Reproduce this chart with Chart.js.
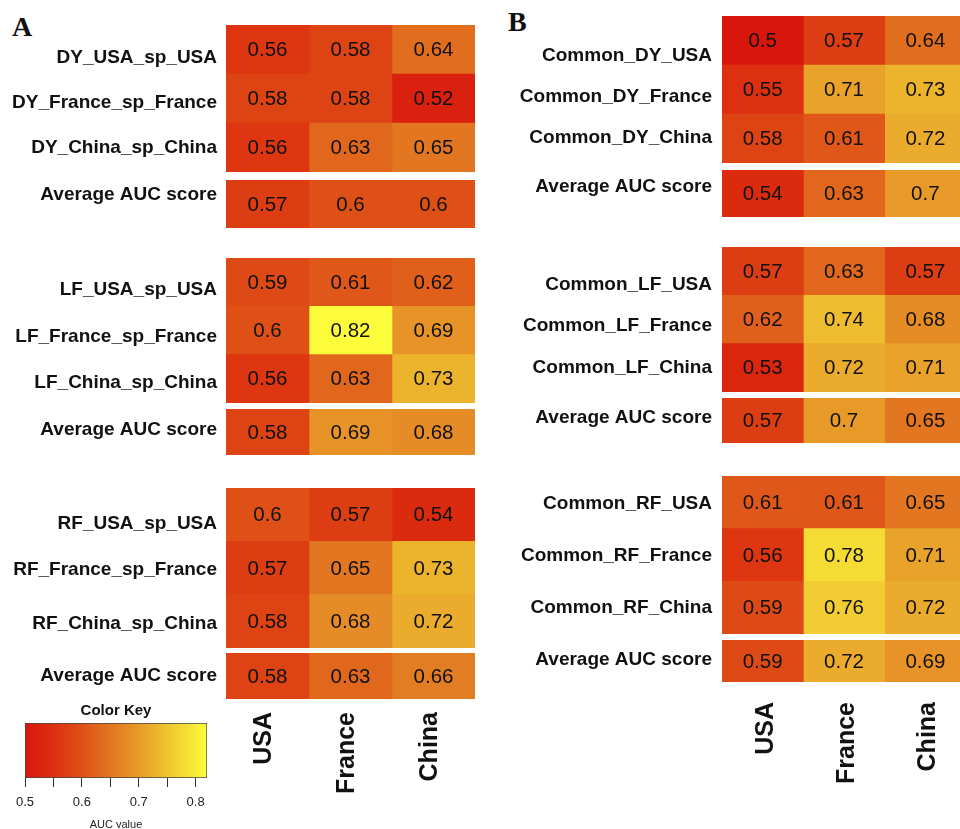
<!DOCTYPE html>
<html><head><meta charset="utf-8">
<script src="https://cdn.jsdelivr.net/npm/chart.js@4.4.1/dist/chart.umd.min.js"></script>
<style>
html,body{margin:0;padding:0;background:#fff;overflow:hidden;}
#wrap{position:relative;width:960px;height:829px;overflow:hidden;background:#fff;}
#wrap canvas{position:absolute;}
.letter{position:absolute;font-family:"Liberation Serif","DejaVu Serif",serif;font-weight:bold;font-size:28px;color:#111;line-height:1;}
</style></head><body>
<div id="wrap">
  <div class="letter" style="left:12px;top:13px">A</div>
  <div class="letter" style="left:508px;top:8px">B</div>
</div>
<script>
// ---------------- DATA ----------------
const colLabels = ['USA', 'France', 'China'];
const avgLabel = 'Average AUC score';

// Panel A
const rowsA_DY = ['DY_USA_sp_USA', 'DY_France_sp_France', 'DY_China_sp_China'];
const valsA_DY = [[0.56, 0.58, 0.64], [0.58, 0.58, 0.52], [0.56, 0.63, 0.65]];
const avgA_DY  = [0.57, 0.6, 0.6];
const rowsA_LF = ['LF_USA_sp_USA', 'LF_France_sp_France', 'LF_China_sp_China'];
const valsA_LF = [[0.59, 0.61, 0.62], [0.6, 0.82, 0.69], [0.56, 0.63, 0.73]];
const avgA_LF  = [0.58, 0.69, 0.68];
const rowsA_RF = ['RF_USA_sp_USA', 'RF_France_sp_France', 'RF_China_sp_China'];
const valsA_RF = [[0.6, 0.57, 0.54], [0.57, 0.65, 0.73], [0.58, 0.68, 0.72]];
const avgA_RF  = [0.58, 0.63, 0.66];

// Panel B
const rowsB_DY = ['Common_DY_USA', 'Common_DY_France', 'Common_DY_China'];
const valsB_DY = [[0.5, 0.57, 0.64], [0.55, 0.71, 0.73], [0.58, 0.61, 0.72]];
const avgB_DY  = [0.54, 0.63, 0.7];
const rowsB_LF = ['Common_LF_USA', 'Common_LF_France', 'Common_LF_China'];
const valsB_LF = [[0.57, 0.63, 0.57], [0.62, 0.74, 0.68], [0.53, 0.72, 0.71]];
const avgB_LF  = [0.57, 0.7, 0.65];
const rowsB_RF = ['Common_RF_USA', 'Common_RF_France', 'Common_RF_China'];
const valsB_RF = [[0.61, 0.61, 0.65], [0.56, 0.78, 0.71], [0.59, 0.76, 0.72]];
const avgB_RF  = [0.59, 0.72, 0.69];

// Color key
const keyRange  = [0.5, 0.82];
const keyTicks  = [0.5, 0.55, 0.6, 0.65, 0.7, 0.75, 0.8];
const keyStops  = [0.50, 0.55, 0.60, 0.65, 0.70, 0.75, 0.80, 0.82];
const keyColors = ['#d9160c', '#dc3010', '#df5017', '#e27621', '#e89a29', '#efc430', '#f7ec38', '#fdfd3c'];

// ---------------- STYLE / LAYOUT ----------------
const FONT = '"Liberation Sans", Arial, Helvetica, sans-serif';
Chart.defaults.font.family = FONT;
Chart.defaults.color = '#111';

function hexToRgb(h){ return [1,3,5].map(i => parseInt(h.substr(i,2),16)); }
const keyRgb = keyColors.map(hexToRgb);
function colorFor(v){
  if (v <= keyStops[0]) return keyColors[0];
  for (let i = 1; i < keyStops.length; i++) {
    if (v <= keyStops[i]) {
      const t = (v - keyStops[i-1]) / (keyStops[i] - keyStops[i-1]);
      const a = keyRgb[i-1], b = keyRgb[i];
      const c = a.map((x, k) => Math.round(x + (b[k]-x)*t));
      return `rgb(${c[0]},${c[1]},${c[2]})`;
    }
  }
  return keyColors[keyColors.length-1];
}

const panelA = {canvasLeft: 0,   areaLeft: 226, areaRight: 475, labelGap: 9,  axisPad: 13, axisOffset: -3};
const panelB = {canvasLeft: 490, areaLeft: 722, areaRight: 966, labelGap: 10, axisPad: 20, axisOffset: 3};

const blocksA = [
  {rows: rowsA_DY, vals: valsA_DY, avg: avgA_DY, main: [25, 172],  avgBox: [180, 228], labelY: [58, 102.5, 147.5],  avgLabelY: 194.5},
  {rows: rowsA_LF, vals: valsA_LF, avg: avgA_LF, main: [258, 403], avgBox: [409, 455], labelY: [290, 337, 383],     avgLabelY: 430},
  {rows: rowsA_RF, vals: valsA_RF, avg: avgA_RF, main: [488, 648], avgBox: [653, 699], labelY: [523.5, 570, 623.5], avgLabelY: 676},
];
const blocksB = [
  {rows: rowsB_DY, vals: valsB_DY, avg: avgB_DY, main: [16, 163],  avgBox: [170, 217], labelY: [56, 97, 137.5], avgLabelY: 187},
  {rows: rowsB_LF, vals: valsB_LF, avg: avgB_LF, main: [247, 392], avgBox: [398, 443], labelY: [285, 326, 368],    avgLabelY: 418},
  {rows: rowsB_RF, vals: valsB_RF, avg: avgB_RF, main: [476, 634], avgBox: [640, 682], labelY: [504, 556, 608],    avgLabelY: 660},
];

const wrap = document.getElementById('wrap');
function addCanvas(left, top, w, h){
  const c = document.createElement('canvas');
  c.width = w; c.height = h;
  c.style.left = left + 'px'; c.style.top = top + 'px';
  c.style.width = w + 'px'; c.style.height = h + 'px';
  wrap.appendChild(c);
  return c;
}

const cellTextPlugin = {
  id: 'cellText',
  afterDatasetsDraw(chart){
    const ctx = chart.ctx;
    ctx.save();
    ctx.font = '20.5px ' + FONT;
    ctx.fillStyle = '#111';
    ctx.textAlign = 'center';
    ctx.textBaseline = 'middle';
    chart.data.datasets.forEach((ds, i) => {
      chart.getDatasetMeta(i).data.forEach((el, j) => {
        ctx.fillText(String(ds.auc[j]), (el.x + el.base) / 2, el.y + 1);
      });
    });
    ctx.restore();
  }
};

function rowLabelPlugin(labels, ys, top, gap){
  return {
    id: 'rowLabels',
    afterDraw(chart){
      const ctx = chart.ctx;
      ctx.save();
      ctx.font = 'bold 19px ' + FONT;
      ctx.fillStyle = '#111';
      ctx.textAlign = 'right';
      ctx.textBaseline = 'middle';
      labels.forEach((t, i) => ctx.fillText(t, chart.chartArea.left - gap, ys[i] - top));
      ctx.restore();
    }
  };
}

function heatChart(panel, rowLabels, vals, box, labelYs, withAxis){
  const [top, bottom] = box;
  const axisH = withAxis ? 130 : 0;
  const w = panel.areaRight - panel.canvasLeft;
  const canvas = addCanvas(panel.canvasLeft, top, w, bottom - top + axisH);
  const datasets = colLabels.map((name, j) => ({
    label: name,
    data: rowLabels.map(() => 1),
    auc: vals.map(r => r[j]),
    backgroundColor: vals.map(r => colorFor(r[j])),
    borderWidth: 0,
    barPercentage: 1,
    categoryPercentage: 1,
    xAxisID: 'x', yAxisID: 'y'
  }));
  const scales = {
    x: {type: 'linear', stacked: true, min: 0, max: colLabels.length, display: false},
    y: {type: 'category', stacked: true, display: false, offset: true}
  };
  if (withAxis) {
    scales.xl = {
      type: 'category', axis: 'x', position: 'bottom', labels: colLabels, offset: true,
      grid: {display: false, drawTicks: false}, border: {display: false},
      ticks: {minRotation: 90, maxRotation: 90, autoSkip: false, padding: panel.axisPad,
              labelOffset: panel.axisOffset,
              font: {family: FONT, size: 25, weight: 'bold'}, color: '#111'},
      afterFit: s => { s.height = axisH; s.paddingLeft = 0; s.paddingRight = 0; }
    };
  }
  new Chart(canvas, {
    type: 'bar',
    data: {labels: rowLabels, datasets},
    options: {
      indexAxis: 'y', responsive: false, animation: false, devicePixelRatio: 1,
      layout: {padding: {left: panel.areaLeft - panel.canvasLeft, right: 0, top: 0, bottom: 0}},
      plugins: {legend: {display: false}, tooltip: {enabled: false}},
      scales
    },
    plugins: [cellTextPlugin, rowLabelPlugin(rowLabels, labelYs, top, panel.labelGap)]
  });
}

function drawPanel(panel, blocks){
  blocks.forEach((b, k) => {
    heatChart(panel, b.rows, b.vals, b.main, b.labelY, false);
    heatChart(panel, [avgLabel], [b.avg], b.avgBox, [b.avgLabelY], k === blocks.length - 1);
  });
}
drawPanel(panelA, blocksA);
drawPanel(panelB, blocksB);

// ---------------- COLOR KEY ----------------
(function(){
  const canvas = addCanvas(0, 700, 240, 140);
  new Chart(canvas, {
    type: 'bar',
    data: {labels: ['key'], datasets: [{
      data: [keyRange],
      backgroundColor: (c) => {
        const chart = c.chart;
        if (!chart.chartArea) return keyColors[0];
        const xs = chart.scales.x;
        const g = chart.ctx.createLinearGradient(xs.getPixelForValue(keyStops[0]), 0, xs.getPixelForValue(keyStops[keyStops.length-1]), 0);
        keyStops.forEach((s, i) => g.addColorStop((s - keyStops[0]) / (keyStops[keyStops.length-1] - keyStops[0]), keyColors[i]));
        return g;
      },
      borderColor: '#444', borderWidth: 1, borderSkipped: false,
      barPercentage: 1, categoryPercentage: 1
    }]},
    options: {
      indexAxis: 'y', responsive: false, animation: false, devicePixelRatio: 1,
      layout: {padding: {left: 25, right: 33, top: 0, bottom: 0}},
      plugins: {
        legend: {display: false}, tooltip: {enabled: false},
        title: {display: true, text: 'Color Key', font: {family: FONT, size: 15, weight: 'bold'}, color: '#111',
                padding: {top: 2, bottom: 3}}
      },
      scales: {
        x: {
          type: 'linear', min: keyRange[0], max: keyRange[1], position: 'bottom',
          afterBuildTicks: s => { s.ticks = keyTicks.map(v => ({value: v})); },
          grid: {drawOnChartArea: false, drawTicks: true, tickLength: 9, color: '#333'},
          border: {display: false},
          ticks: {autoSkip: false, maxRotation: 0, padding: 8, color: '#222',
                  font: {family: FONT, size: 13},
                  callback: v => (Math.abs(v * 10 - Math.round(v * 10)) < 1e-6 ? v.toFixed(1) : '')},
          title: {display: true, text: 'AUC value', color: '#222', font: {family: FONT, size: 11},
                  padding: {top: 0, bottom: 8}},
          afterFit: s => { s.height = 62; s.paddingLeft = 0; s.paddingRight = 0; }
        },
        y: {type: 'category', display: false, offset: true}
      }
    }
  });
})();
</script>
</body></html>
